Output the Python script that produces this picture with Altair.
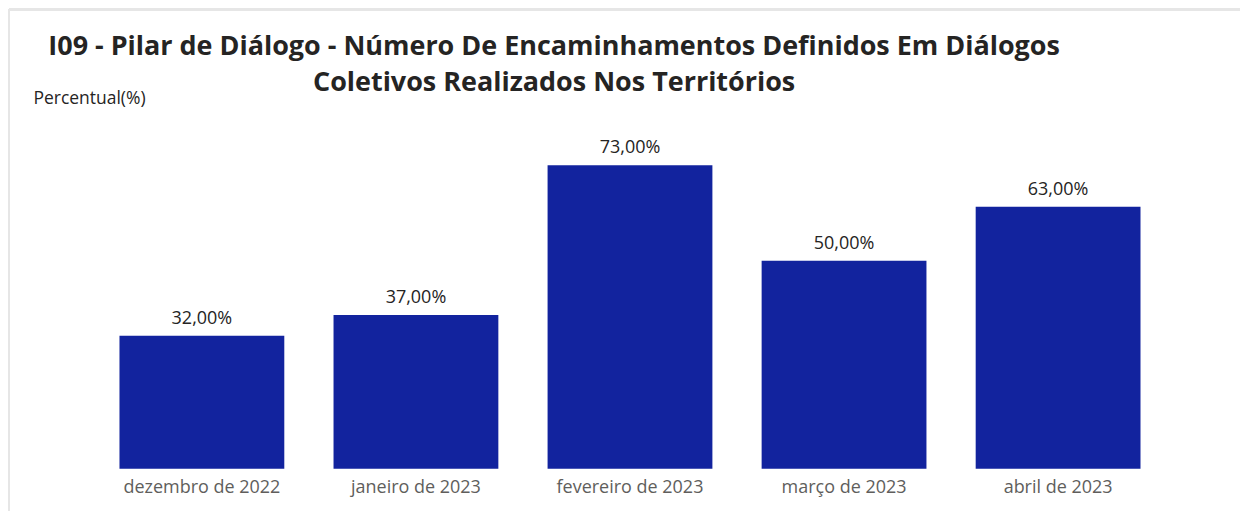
import altair as alt
import pandas as pd

meses = ["dezembro de 2022", "janeiro de 2023", "fevereiro de 2023", "março de 2023", "abril de 2023"]
percentual = [32.0, 37.0, 73.0, 50.0, 63.0]

df = pd.DataFrame({"mes": meses, "valor": percentual})

W, H = 1072, 333
FONT = "Open Sans"

base = alt.Chart(df)

x = alt.X("mes:N", sort=meses, title=None,
          scale=alt.Scale(paddingInner=0.23, paddingOuter=0.115),
          axis=alt.Axis(labelAngle=0, ticks=False, domain=False, labelPadding=10,
                        labelFontSize=18, labelColor="#605E5C", labelFont=FONT))
y = alt.Y("valor:Q", scale=alt.Scale(domain=[0, 80], nice=False),
          axis=alt.Axis(labels=False, ticks=False, domain=False, grid=False,
                        title="Percentual(%)", titleAngle=0, titleAlign="left",
                        titleBaseline="middle", titleX=-62, titleY=-38,
                        titleFontSize=17.5, titleFontWeight="normal",
                        titleColor="#252423", titleFont=FONT))

bars = base.mark_bar(color="#12239E").encode(x=x, y=y)

labels = base.transform_calculate(
    lab="replace(format(datum.valor, '.2f'), '.', ',') + '%'"
).mark_text(dy=-17, fontSize=18, color="#252423", font=FONT).encode(
    x=alt.X("mes:N", sort=meses), y="valor:Q", text="lab:N")

frame_top = alt.Chart(df).mark_rule(color="#E6E6E6", strokeWidth=2).encode(
    x=alt.value(-86), x2=alt.value(1147), y=alt.value(-127))
frame_left = alt.Chart(df).mark_rule(color="#E6E6E6", strokeWidth=2).encode(
    x=alt.value(-86), y=alt.value(-127), y2=alt.value(375))

chart = alt.layer(frame_top, frame_left, bars, labels).properties(
    width=W, height=H,
    padding={"left": 0, "top": 0, "right": 0, "bottom": 0},
    title=alt.TitleParams(
        ["I09 - Pilar de Diálogo - Número De Encaminhamentos Definidos Em Diálogos",
         "Coletivos Realizados Nos Territórios"],
        anchor="middle", frame="group", dx=-76, fontSize=27, fontWeight="bold",
        font=FONT, color="#252423", lineHeight=36, offset=-89),
).configure_view(stroke=None)

chart.save("out.html", embed_options={"renderer": "svg", "actions": False})
